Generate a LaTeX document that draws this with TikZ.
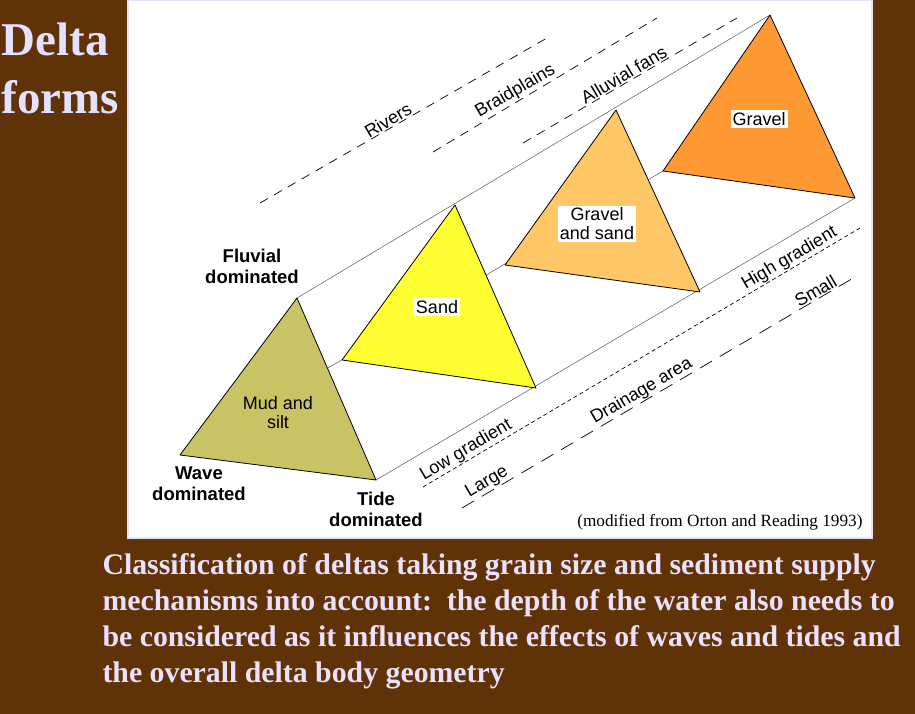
\documentclass[tikz,border=0pt]{standalone}
\usepackage{fontspec}
\setmainfont{Liberation Serif}
\setsansfont{Liberation Sans}
\begin{document}
\begin{tikzpicture}[x=1pt,y=-1pt,
  tri/.style={draw=black,line width=0.8pt,line join=round},
  gl/.style={draw=gray!70!black,line width=0.5pt},
  lab/.style={font=\sffamily\fontsize{18}{19}\selectfont},
  blab/.style={font=\sffamily\bfseries\fontsize{18.5}{21}\selectfont,align=center},
  wlab/.style={lab,fill=white,inner sep=2pt,align=center},
  rlab/.style={lab,rotate=30.5,inner sep=1pt,anchor=south},
  dsh/.style={dash pattern=on 9pt off 7pt,line width=0.7pt},
  fdsh/.style={dash pattern=on 4pt off 3pt,line width=0.7pt},
  ldsh/.style={dash pattern=on 14pt off 9pt,line width=0.7pt},
  titletext/.style={font=\bfseries\fontsize{47}{58}\selectfont,text=lav,align=left,anchor=west},
  captext/.style={font=\bfseries\fontsize{29.8}{36}\selectfont,text=lav2,align=left,anchor=north west}]
\definecolor{bg}{RGB}{95,50,8}
\definecolor{lav}{RGB}{226,226,255}
\definecolor{lav2}{RGB}{235,225,250}
\fill[bg] (0,0) rectangle (915,714);
\useasboundingbox (0,0) rectangle (915,714);
\fill[white,draw=lav,line width=1.5pt] (128,0) rectangle (872,538);
\coordinate (a1) at (297,298); \coordinate (l1) at (180,455); \coordinate (r1) at (376,480);
\coordinate (a2) at (455,205); \coordinate (l2) at (342,360); \coordinate (r2) at (536,388);
\coordinate (a3) at (616,110); \coordinate (l3) at (505,265); \coordinate (r3) at (700,292);
\coordinate (a4) at (770,15);  \coordinate (l4) at (663,171); \coordinate (r4) at (855,198);
\draw[gl] (a1) -- (a4);
\draw[gl] (l1) -- (l4);
\draw[gl] (r1) -- (r4);
\fill[fill={rgb,255:red,200;green,196;blue,102}] (a1) -- (l1) -- (r1) -- cycle;
\fill[fill={rgb,255:red,255;green,255;blue,51}] (a2) -- (l2) -- (r2) -- cycle;
\fill[fill={rgb,255:red,255;green,199;blue,102}] (a3) -- (l3) -- (r3) -- cycle;
\fill[fill={rgb,255:red,255;green,153;blue,51}] (a4) -- (l4) -- (r4) -- cycle;
\draw[tri] (a1) -- (l1) -- (r1) -- cycle;
\draw[tri] (a2) -- (l2) -- (r2) -- cycle;
\draw[tri] (a3) -- (l3) -- (r3) -- cycle;
\draw[tri] (a4) -- (l4) -- (r4) -- cycle;
\node[lab,align=center] (t1) at (278,413) {Mud and\\silt};
\node[wlab] (t2) at (437,307) {Sand};
\node[wlab] (t3) at (597,224) {Gravel\\and sand};
\node[wlab] (t4) at (759,119) {Gravel};
\coordinate (rv1) at (260,203); \coordinate (rv2) at (547,38);
\coordinate (bp1) at (433,152); \coordinate (bp2) at (657,18);
\coordinate (af1) at (523,143); \coordinate (af2) at (737,18);
\draw[dsh] (rv1) -- node[rlab,pos=0.46] (rivers) {Rivers} (rv2);
\draw[dsh] (bp1) -- node[rlab,pos=0.39] (braid) {Braidplains} (bp2);
\draw[dsh] (af1) -- node[rlab,pos=0.49] (alluv) {Alluvial fans} (af2);
\coordinate (g1) at (423,487); \coordinate (g2) at (860,228);
\coordinate (d1) at (462,508); \coordinate (d2) at (855,277);
\draw[fdsh] (g1) -- node[rlab,pos=0.11] (low) {Low gradient}
                   node[rlab,pos=0.85] (high) {High gradient} (g2);
\draw[ldsh] (d1) -- node[rlab,pos=0.076] (large) {Large}
                   node[rlab,pos=0.47] (drain) {Drainage area}
                   node[rlab,pos=0.91] (small) {Small} (d2);
\node[blab] (fl) at (252,266) {Fluvial\\dominated};
\node[blab] (wv) at (199,484) {Wave\\dominated};
\node[blab] (td) at (376,509) {Tide\\dominated};
\node[font=\fontsize{17.2}{18}\selectfont,anchor=east] (src) at (866,522) {(modified from Orton and Reading 1993)};
\node[titletext] (ttl) at (-2,68) {Delta\\forms};
\node[captext] (caption) at (99,550) {Classification of deltas taking grain size and sediment supply\\mechanisms into account:\ \ the depth of the water also needs to\\be considered as it influences the effects of waves and tides and\\the overall delta body geometry};
\end{tikzpicture}
\end{document}
